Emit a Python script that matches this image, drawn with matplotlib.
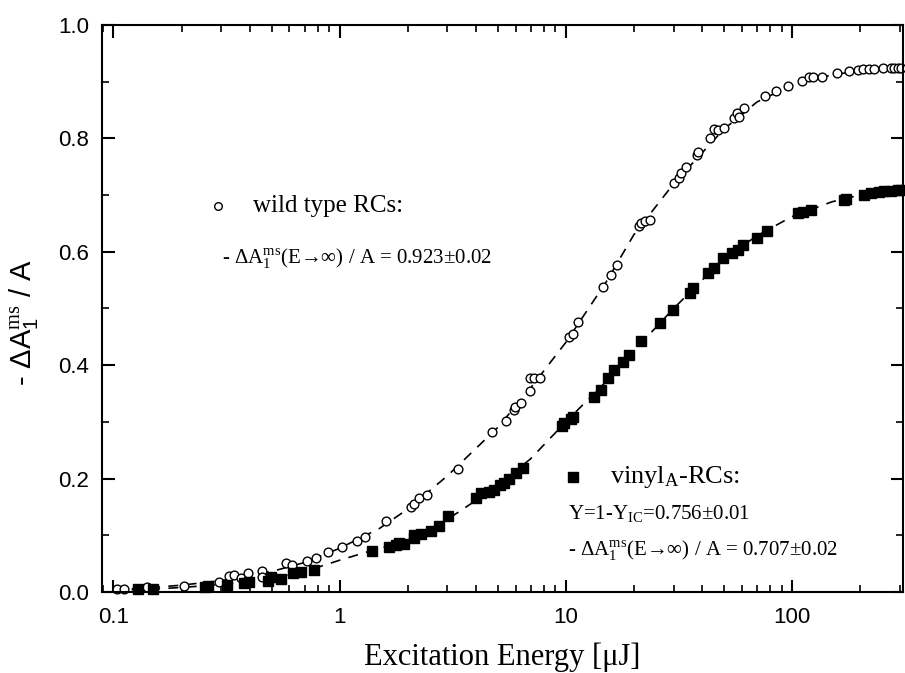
import matplotlib
matplotlib.use('Agg')
import matplotlib.pyplot as plt
import matplotlib as mpl
import numpy as np

plt.rcParams['font.family'] = 'Liberation Sans'
plt.rcParams['mathtext.fontset'] = 'custom'
plt.rcParams['mathtext.rm'] = 'Liberation Serif'
plt.rcParams['mathtext.sf'] = 'Liberation Sans'
plt.rcParams['mathtext.it'] = 'Liberation Serif:italic'
plt.rcParams['xtick.labelsize'] = 16
plt.rcParams['ytick.labelsize'] = 16
plt.rcParams['axes.linewidth'] = 1.5

# wild type RCs (open circles)
wt_energy = [0.104, 0.111, 0.141, 0.206, 0.292, 0.323, 0.343, 0.365, 0.392, 0.452,
             0.452, 0.577, 0.613, 0.714, 0.783, 0.885, 1.02, 1.19, 1.30, 1.61,
             2.06, 2.13, 2.24, 2.43, 3.33, 4.71, 5.43, 5.89, 5.95, 6.32,
             6.93, 6.93, 7.21, 7.67, 10.3, 10.8, 11.3, 14.6, 15.8, 16.8,
             21.0, 21.5, 22.4, 23.5, 30.1, 31.6, 32.3, 34.0, 38.0, 38.4,
             43.4, 45.2, 47.1, 50.0, 55.4, 57.1, 58.2, 61.3, 76.0, 85.0,
             96.0, 111, 119, 124, 136, 158, 179, 196, 206, 219,
             231, 253, 274, 283, 294, 303]
wt_signal = [0.005, 0.005, 0.009, 0.011, 0.018, 0.028, 0.030, 0.025, 0.034, 0.037,
             0.026, 0.051, 0.048, 0.055, 0.060, 0.071, 0.079, 0.090, 0.097, 0.125,
             0.150, 0.155, 0.166, 0.171, 0.217, 0.282, 0.302, 0.321, 0.326, 0.333,
             0.354, 0.377, 0.377, 0.377, 0.450, 0.455, 0.476, 0.538, 0.559, 0.577,
             0.646, 0.651, 0.654, 0.656, 0.721, 0.730, 0.739, 0.750, 0.771, 0.776,
             0.801, 0.817, 0.815, 0.818, 0.836, 0.845, 0.838, 0.854, 0.875, 0.884,
             0.892, 0.901, 0.908, 0.908, 0.908, 0.915, 0.919, 0.921, 0.922, 0.922,
             0.922, 0.924, 0.924, 0.924, 0.924, 0.924]

# vinyl_A RCs (filled squares)
vinyl_energy = [0.129, 0.149, 0.253, 0.263, 0.319, 0.376, 0.396, 0.480, 0.495, 0.548,
                0.620, 0.672, 0.767, 1.39, 1.66, 1.77, 1.84, 1.92, 2.13, 2.13,
                2.28, 2.53, 2.74, 3.01, 4.00, 4.21, 4.56, 4.80, 5.10, 5.32,
                5.59, 6.01, 6.45, 9.60, 9.80, 10.5, 10.8, 13.3, 14.3, 15.3,
                16.3, 17.9, 19.0, 21.5, 26.1, 29.7, 35.4, 36.5, 42.5, 45.2,
                49.5, 54.3, 57.7, 60.7, 70.0, 77.5, 106, 112, 121, 170,
                173, 208, 224, 243, 255, 274, 294, 303]
vinyl_signal = [0.005, 0.005, 0.009, 0.011, 0.012, 0.016, 0.018, 0.019, 0.026, 0.023,
                0.034, 0.035, 0.039, 0.072, 0.079, 0.083, 0.086, 0.085, 0.095, 0.101,
                0.102, 0.108, 0.116, 0.134, 0.166, 0.175, 0.176, 0.180, 0.189, 0.192,
                0.199, 0.210, 0.219, 0.293, 0.298, 0.305, 0.309, 0.344, 0.356, 0.377,
                0.392, 0.406, 0.418, 0.443, 0.474, 0.497, 0.527, 0.536, 0.563, 0.571,
                0.589, 0.598, 0.603, 0.612, 0.624, 0.637, 0.668, 0.670, 0.674, 0.691,
                0.693, 0.700, 0.704, 0.705, 0.707, 0.707, 0.709, 0.709]

# dashed fit curves
fit_energy = [0.1, 0.15, 0.2, 0.3, 0.5, 0.7, 1.0, 1.5, 2, 3, 5, 7, 10, 15, 20,
              30, 50, 70, 100, 150, 200, 310]
wt_fit = [0.004, 0.008, 0.012, 0.020, 0.036, 0.052, 0.077, 0.112, 0.146, 0.205,
          0.290, 0.360, 0.440, 0.545, 0.630, 0.720, 0.816, 0.864, 0.894, 0.912,
          0.919, 0.924]
vinyl_fit = [0.003, 0.005, 0.008, 0.013, 0.024, 0.036, 0.056, 0.077, 0.090, 0.128,
             0.187, 0.235, 0.300, 0.370, 0.425, 0.500, 0.588, 0.628, 0.662, 0.688,
             0.700, 0.709]

fig = plt.figure(figsize=(9.05, 6.73), dpi=100)
ax = fig.add_axes([0.1127, 0.1204, 0.8851, 0.8425])

ax.plot(fit_energy, wt_fit, color='black', lw=1.2, ls=(0, (6, 5)))
ax.plot(fit_energy, vinyl_fit, color='black', lw=1.2, ls=(0, (6, 5)))
ax.plot(wt_energy, wt_signal, 'o', mfc='white', mec='black', mew=1.0, ms=6.3,
        clip_on=False)
ax.plot(vinyl_energy, vinyl_signal, 's', mfc='black', mec='black', ms=6.5,
        clip_on=False)

ax.set_xscale('log')
ax.set_xlim(0.089, 310)
ax.set_ylim(0, 1.0)

ax.xaxis.set_major_locator(mpl.ticker.LogLocator(base=10, numticks=10))
ax.xaxis.set_minor_locator(mpl.ticker.LogLocator(base=10, subs=np.arange(2, 10), numticks=10))
ax.xaxis.set_major_formatter(mpl.ticker.FuncFormatter(lambda v, p: f'{v:g}'))
ax.xaxis.set_minor_formatter(mpl.ticker.NullFormatter())
ax.yaxis.set_major_locator(mpl.ticker.MultipleLocator(0.2))
ax.yaxis.set_minor_locator(mpl.ticker.MultipleLocator(0.1))
ax.yaxis.set_major_formatter(mpl.ticker.FormatStrFormatter('%.1f'))

ax.tick_params(which='major', direction='in', length=9, width=1.5,
               top=True, right=True)
ax.tick_params(which='minor', direction='in', length=5, width=1.2,
               top=True, right=True)
ax.tick_params(axis='x', which='major', pad=11)
ax.tick_params(axis='y', which='major', pad=9)

ax.set_xlabel('Excitation Energy [μJ]', family='Liberation Serif', fontsize=22,
              labelpad=10)
ax.set_ylabel(r'- ΔA$_{\mathsf{1}}^{\mathrm{ms}}$ / A', fontsize=21)
ax.yaxis.set_label_coords(-0.078, 0.476)

# annotations
ax.plot([0.145], [0.681], 'o', mfc='white', mec='black', mew=1.0, ms=5.5,
        transform=ax.transAxes)
ax.text(0.1885, 0.681, 'wild type RCs:', transform=ax.transAxes,
        family='Liberation Serif', fontsize=18, va='center', ha='left')
ax.text(0.150, 0.589, r'- ΔA$_{1}^{\mathrm{ms}}$(E→∞) / A = 0.923±0.02',
        transform=ax.transAxes, family='Liberation Serif', fontsize=15,
        va='center', ha='left')

ax.plot([0.588], [0.203], 's', mfc='black', mec='black', ms=6.5,
        transform=ax.transAxes)
ax.text(0.634, 0.203, r'vinyl$_{\mathrm{A}}$-RCs:', transform=ax.transAxes,
        family='Liberation Serif', fontsize=19, va='center', ha='left')
ax.text(0.582, 0.139, r'Y=1-Y$_{\mathrm{IC}}$=0.756±0.01',
        transform=ax.transAxes, family='Liberation Serif', fontsize=15,
        va='center', ha='left')
ax.text(0.582, 0.074, r'- ΔA$_{1}^{\mathrm{ms}}$(E→∞) / A = 0.707±0.02',
        transform=ax.transAxes, family='Liberation Serif', fontsize=15,
        va='center', ha='left')

plt.savefig('out.png', dpi=100)
